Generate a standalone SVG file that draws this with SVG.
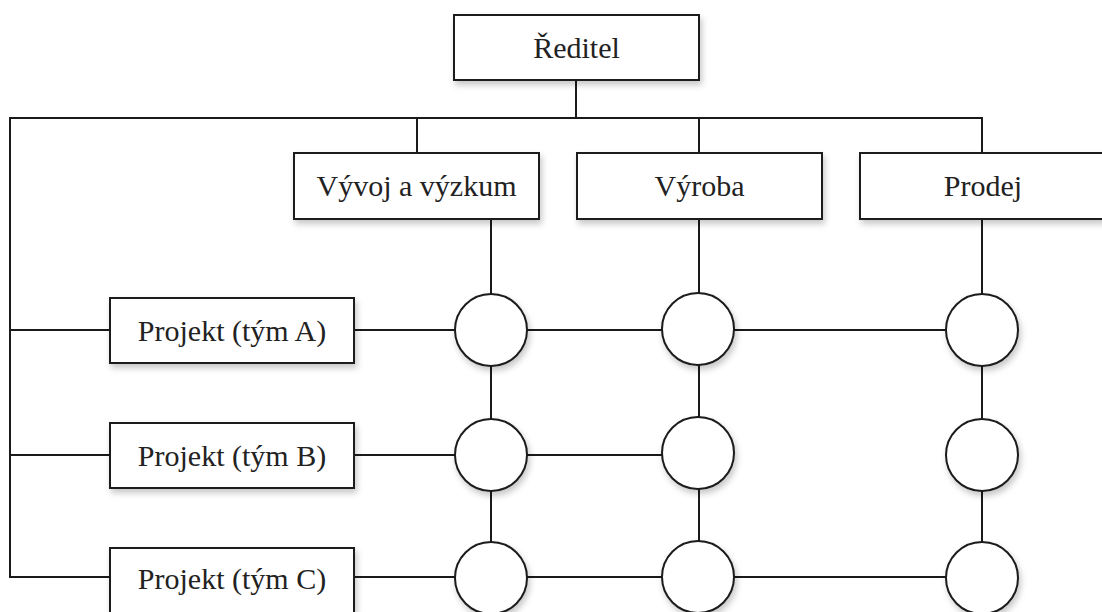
<svg xmlns="http://www.w3.org/2000/svg" width="1102" height="612" viewBox="0 0 1102 612">
<style>
.box{fill:#fff;stroke:#1a1a1a;stroke-width:2;filter:url(#sh)}
.node{fill:#fff;stroke:#1a1a1a;stroke-width:2;filter:url(#sh)}
.lbl{font-family:"Liberation Serif","Times New Roman",serif;font-size:30px;fill:#222;text-anchor:middle}
.con{fill:none;stroke:#1a1a1a;stroke-width:2}
</style>
<defs>
<filter id="sh" x="-20%" y="-20%" width="150%" height="160%">
<feDropShadow dx="2" dy="4" stdDeviation="3" flood-color="#000" flood-opacity="0.22"/>
</filter>
</defs>
<rect width="1102" height="612" fill="#fff"/>
<g id="connectors" class="con">
<path d="M576 80V118"/>
<path d="M982 153V118H10V577H110"/>
<path d="M417 118V153"/>
<path d="M699 118V153"/>
<path d="M10 330H110"/>
<path d="M10 455H110"/>
<path d="M354 330H982"/>
<path d="M354 455H698"/>
<path d="M354 577H982"/>
<path d="M491 219V577"/>
<path d="M699 219V577"/>
<path d="M982 219V577"/>
</g>
<g id="reditel"><rect class="box" x="454" y="15" width="245" height="65"/><text class="lbl" x="576.5" y="58">Ředitel</text></g>
<g id="vyvoj"><rect class="box" x="294" y="153" width="245" height="66"/><text class="lbl" x="416.5" y="196">Vývoj a výzkum</text></g>
<g id="vyroba"><rect class="box" x="577" y="153" width="245" height="66"/><text class="lbl" x="699.5" y="196">Výroba</text></g>
<g id="prodej"><rect class="box" x="860" y="153" width="245" height="66"/><text class="lbl" x="983" y="196">Prodej</text></g>
<g id="projektA"><rect class="box" x="110" y="298" width="244" height="65"/><text class="lbl" x="232" y="341">Projekt (tým A)</text></g>
<g id="projektB"><rect class="box" x="110" y="423" width="244" height="65"/><text class="lbl" x="232" y="466">Projekt (tým B)</text></g>
<g id="projektC"><rect class="box" x="110" y="548" width="244" height="65"/><text class="lbl" x="232" y="589">Projekt (tým C)</text></g>
<g id="a1"><circle class="node" cx="491" cy="330" r="36"/></g>
<g id="a2"><circle class="node" cx="698" cy="329" r="36"/></g>
<g id="a3"><circle class="node" cx="982" cy="330" r="36"/></g>
<g id="b1"><circle class="node" cx="491" cy="455" r="36"/></g>
<g id="b2"><circle class="node" cx="698" cy="453" r="36"/></g>
<g id="b3"><circle class="node" cx="982" cy="455" r="36"/></g>
<g id="c1"><circle class="node" cx="491" cy="578" r="36"/></g>
<g id="c2"><circle class="node" cx="698" cy="577" r="36"/></g>
<g id="c3"><circle class="node" cx="982" cy="578" r="36"/></g>
</svg>
